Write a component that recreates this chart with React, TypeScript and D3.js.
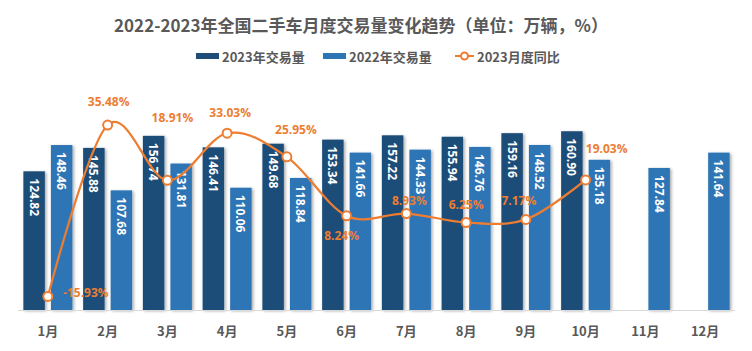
import React from "react";
import * as d3 from "d3";

// chart data
const months = ["1月", "2月", "3月", "4月", "5月", "6月", "7月", "8月", "9月", "10月", "11月", "12月"];
const sales2023 = [124.82, 145.88, 156.74, 146.41, 149.68, 153.34, 157.22, 155.94, 159.16, 160.9];
const sales2022 = [148.46, 107.68, 131.81, 110.06, 118.84, 141.66, 144.33, 146.76, 148.52, 135.18, 127.84, 141.64];
const yoy2023 = [-15.93, 35.48, 18.91, 33.03, 25.95, 8.24, 8.93, 6.25, 7.17, 19.03];

// where each yoy label sits relative to its point (like the hand-placed labels in the original)
const yoyLabelShift: [number, number][] = [
  [38, -4], [1, -24], [5, -63], [3, -21], [9, -27],
  [-5, 20], [3, -13], [0, -18], [-7, -19], [21, -31],
];

const W = 752;
const H = 351;
const CJK = "'Noto Sans CJK SC', 'Noto Sans', sans-serif";
const NUM = "'Open Sans', 'Noto Sans', sans-serif";
const GREY = "#595959";
const C2023 = "#1F4E79";
const C2022 = "#2E75B6";
const ORANGE = "#ED7D31";

export default function App() {
  const left = 18;
  const right = 735;
  const top = 110;
  const bottom = 310;

  const x = d3.scaleBand<string>().domain(months).range([left, right]);
  const inner = d3
    .scaleBand<string>()
    .domain(["2023", "2022"])
    .range([0, x.step()])
    .paddingInner(0.22)
    .paddingOuter(0.195);
  const y = d3.scaleLinear().domain([0, 180]).range([bottom, top]);
  const y2 = d3.scaleLinear().domain([-20, 40]).range([bottom, top]);

  const cx = (i: number) => (x(months[i]) as number) + x.bandwidth() / 2;

  const line = d3
    .line<number>()
    .x((_, i) => cx(i))
    .y((d) => y2(d))
    .curve(d3.curveCardinal.tension(0));

  const bars = (vals: number[], key: string, color: string) =>
    vals.map((v, i) => {
      const bx = (x(months[i]) as number) + (inner(key) as number);
      const bw = inner.bandwidth();
      const by = y(v);
      return (
        <g key={key + i}>
          <rect x={bx} y={by} width={bw} height={bottom - by} fill={color} filter="url(#shadow)" />
          <text
            transform={`translate(${bx + bw / 2},${by + 7}) rotate(90)`}
            dominantBaseline="central"
            fill="#fff"
            fontFamily={NUM}
            fontWeight={700}
            fontSize={12}
          >
            {v.toFixed(2)}
          </text>
        </g>
      );
    });

  return (
    <svg width={W} height={H} style={{ display: "block", margin: -8 }}>
      <defs>
        <filter id="shadow" x="-30%" y="-10%" width="160%" height="120%">
          <feDropShadow dx="1.5" dy="1" stdDeviation="1.5" floodColor="#000" floodOpacity="0.35" />
        </filter>
      </defs>
      <rect width={W} height={H} fill="#fff" />

      <text
        x={361}
        y={24}
        textAnchor="middle"
        dominantBaseline="central"
        fontFamily={CJK}
        fontWeight={700}
        fontSize={17}
        fill={GREY}
      >
        2022-2023年全国二手车月度交易量变化趋势（单位：万辆，%）
      </text>

      {/* legend */}
      <g fontFamily={CJK} fontWeight={700} fontSize={13} fill={GREY}>
        <rect x={196} y={53} width={23} height={6} fill={C2023} />
        <text x={222} y={56} dominantBaseline="central">2023年交易量</text>
        <rect x={323} y={53} width={23} height={6} fill={C2022} />
        <text x={349} y={56} dominantBaseline="central">2022年交易量</text>
        <line x1={455} x2={474} y1={56} y2={56} stroke={ORANGE} strokeWidth={2} />
        <circle cx={464.5} cy={56} r={3.5} fill="#fff" stroke={ORANGE} strokeWidth={2} />
        <text x={477} y={56} dominantBaseline="central">2023月度同比</text>
      </g>

      {bars(sales2023, "2023", C2023)}
      {bars(sales2022, "2022", C2022)}

      <line x1={left} x2={right} y1={bottom + 0.5} y2={bottom + 0.5} stroke="#D9D9D9" strokeWidth={1} />

      {months.map((m, i) => (
        <text
          key={m}
          x={cx(i)}
          y={330}
          textAnchor="middle"
          dominantBaseline="central"
          fontFamily={CJK}
          fontWeight={700}
          fontSize={13}
          fill={GREY}
        >
          {m}
        </text>
      ))}

      <path d={line(yoy2023) as string} fill="none" stroke={ORANGE} strokeWidth={2.25} />
      {yoy2023.map((v, i) => (
        <circle key={"p" + i} cx={cx(i)} cy={y2(v)} r={4.5} fill="#fff" stroke={ORANGE} strokeWidth={2} />
      ))}
      {yoy2023.map((v, i) => (
        <text
          key={"l" + i}
          x={cx(i) + yoyLabelShift[i][0]}
          y={y2(v) + yoyLabelShift[i][1]}
          textAnchor="middle"
          dominantBaseline="central"
          fontFamily={NUM}
          fontWeight={700}
          fontSize={12}
          fill={ORANGE}
        >
          {v.toFixed(2)}%
        </text>
      ))}
    </svg>
  );
}
